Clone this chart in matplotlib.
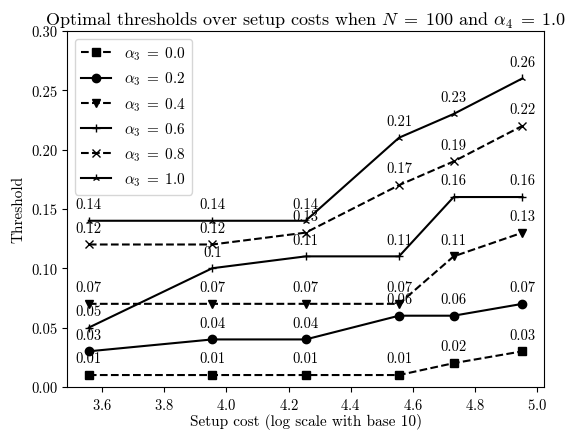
import matplotlib
matplotlib.use("Agg")
import matplotlib.pyplot as plt
import numpy as np

plt.rcParams['font.family'] = 'serif'
plt.rcParams['font.serif'] = ['cmr10']
plt.rcParams['mathtext.fontset'] = 'cm'
plt.rcParams['axes.formatter.use_mathtext'] = True

setup_costs = [3600, 9000, 18000, 36000, 54000, 90000]
alpha3 = [0.0, 0.2, 0.4, 0.6, 0.8, 1.0]
thresholds = [
    [0.01, 0.01, 0.01, 0.01, 0.02, 0.03],
    [0.03, 0.04, 0.04, 0.06, 0.06, 0.07],
    [0.07, 0.07, 0.07, 0.07, 0.11, 0.13],
    [0.05, 0.1, 0.11, 0.11, 0.16, 0.16],
    [0.12, 0.12, 0.13, 0.17, 0.19, 0.22],
    [0.14, 0.14, 0.14, 0.21, 0.23, 0.26],
]
markers = ['s', 'o', 'v', '+', 'x', '2']
styles = ['--', '-', '--', '-', '--', '-']

x = np.log10(setup_costs)

fig = plt.figure(figsize=(5.74, 4.31), dpi=100)
ax = fig.add_axes([0.117, 0.100, 0.831, 0.826])

for a, vals, m, ls in zip(alpha3, thresholds, markers, styles):
    ax.plot(x, vals, color='black', linestyle=ls, marker=m, markersize=6,
            linewidth=1.5, label=r'$\alpha_3 \;=\; %.1f$' % a)
    for xi, v in zip(x, vals):
        ax.annotate(str(v), (xi, v), xytext=(0, 7), textcoords='offset points',
                    ha='center', va='bottom', fontsize=10.5)

ax.set_ylim(0, 0.3)
ax.yaxis.set_major_formatter(matplotlib.ticker.FormatStrFormatter('%.2f'))
ax.tick_params(labelsize=10.5)
ax.set_xlabel("Setup cost (log scale with base 10)", fontsize=11, labelpad=1)
ax.set_ylabel("Threshold", fontsize=11)
ax.set_title(r"Optimal thresholds over setup costs when $N \;=\; 100$ and $\alpha_4 \;=\; 1.0$",
             fontsize=13, pad=4)
ax.legend(loc='upper left', fontsize=11)

plt.savefig("out.png", dpi=100)
